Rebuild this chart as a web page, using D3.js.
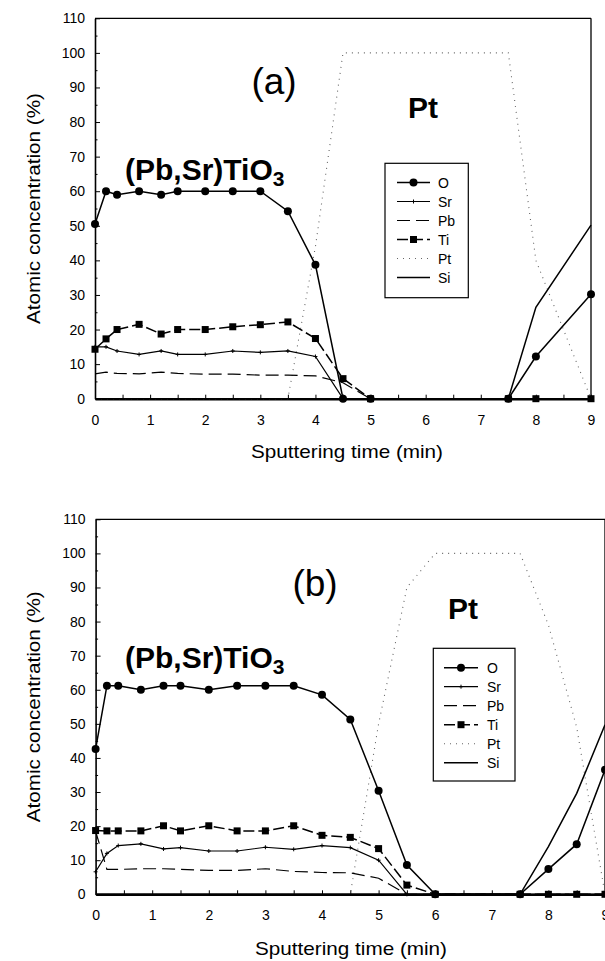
<!DOCTYPE html>
<html>
<head>
<meta charset="utf-8">
<script src="https://cdn.jsdelivr.net/npm/d3@7"></script>
<style>
  body { margin: 0; background: #fff; }
  svg { display: block; font-family: "Liberation Sans", Arial, sans-serif; }
</style>
</head>
<body>
<svg id="chart" width="605" height="961"></svg>
<script>
// ---- data ----
const elements = ["O", "Sr", "Pb", "Ti", "Pt", "Si"];
const yTicks = [0, 10, 20, 30, 40, 50, 60, 70, 80, 90, 100, 110];
const yMinor = [5, 15, 25, 35, 45, 55, 65, 75, 85, 95, 105];
const xTicks = [0, 1, 2, 3, 4, 5, 6, 7, 8, 9];
const xMinor = [0.5, 1.5, 2.5, 3.5, 4.5, 5.5, 6.5, 7.5, 8.5];

// panel (a)
const timeA = [0, 0.2, 0.4, 0.8, 1.2, 1.5, 2, 2.5, 3, 3.5, 4, 4.5, 5, 7.5, 8, 9];
const oA  = [50.5, 60, 59, 60, 59, 60, 60, 60, 60, 54.2, 38.7, 0, 0, 0, 12.2, 30.2];
const srA = [15, 15, 13.8, 12.8, 13.8, 12.8, 12.8, 13.8, 13.4, 13.8, 12.2, 0, 0, 0, 0, 0];
const pbA = [7.2, 7.7, 7.3, 7.2, 7.7, 7.3, 7.1, 7.1, 6.8, 6.8, 6.6, 4.6, 0, 0, 0, 0];
const tiA = [14.3, 17.3, 20, 21.5, 18.7, 20, 20, 20.8, 21.4, 22.2, 17.4, 5.8, 0, 0, 0, 0];
const ptA = [0, 0, 0, 0, 0, 0, 0, 0, 0, 0, 44, 100, 100, 100, 40, 0];
const siA = [0, 0, 0, 0, 0, 0, 0, 0, 0, 0, 0, 0, 0, 0, 26.4, 50.2];

// panel (b)
const timeB = [0, 0.2, 0.4, 0.8, 1.2, 1.5, 2, 2.5, 3, 3.5, 4, 4.5, 5, 5.5, 6, 7.5, 8, 8.5, 9];
const oB  = [42.6, 61.2, 61.2, 60, 61.2, 61.2, 60, 61.2, 61.2, 61.2, 58.5, 51.3, 30.4, 8.6, 0, 0, 7.4, 14.7, 36.5];
const srB = [6.6, 12, 14.3, 14.8, 13.3, 13.7, 12.7, 12.7, 13.8, 13.2, 14.3, 13.7, 10, 0, 0, 0, 0, 0, 0];
const pbB = [18.5, 7.3, 7.3, 7.5, 7.5, 7.3, 7, 7, 7.5, 6.7, 6.4, 6.3, 4.7, 0, 0, 0, 0, 0, 0];
const tiB = [18.7, 18.6, 18.6, 18.6, 20.1, 18.6, 20.1, 18.6, 18.6, 20.1, 17.3, 16.7, 13.4, 2.7, 0, 0, 0, 0, 0];
const ptB = [0, 0, 0, 0, 0, 0, 0, 0, 0, 0, 0, 0, 50, 90, 100, 100, 79, 49, 0];
const siB = [0, 0, 0, 0, 0, 0, 0, 0, 0, 0, 0, 0, 0, 0, 0, 0, 14, 29.6, 49.7];

const styles = {
  O:  { dash: null, width: 1.5, color: "#000", marker: "circle" },
  Sr: { dash: null, width: 1.2, color: "#000", marker: "plus" },
  Pb: { dash: "13,6", width: 1.2, color: "#000", marker: null },
  Ti: { dash: "11,4", width: 1.5, color: "#000", marker: "square" },
  Pt: { dash: "1,5", width: 1.1, color: "#666", marker: null },
  Si: { dash: null, width: 1.5, color: "#000", marker: null },
};
const drawOrder = ["Pt", "Si", "Pb", "Sr", "Ti", "O"];

const svg = d3.select("#chart");

function drawMarker(g, kind, cx, cy) {
  if (kind === "circle") {
    g.append("circle").attr("cx", cx).attr("cy", cy).attr("r", 4).attr("fill", "#000");
  } else if (kind === "square") {
    g.append("rect").attr("x", cx - 3.5).attr("y", cy - 3.5).attr("width", 7).attr("height", 7).attr("fill", "#000");
  } else if (kind === "plus") {
    g.append("path").attr("d", `M${cx},${cy - 2}V${cy + 2}M${cx - 2},${cy}H${cx + 2}`)
      .attr("stroke", "#000").attr("stroke-width", 1);
  }
}

function drawPanel(p) {
  const g = svg.append("g");
  const x = d3.scaleLinear().domain([0, 9]).range([p.left, p.right]);
  const y = d3.scaleLinear().domain([0, 110]).range([p.bottom, p.top]);

  // frame top / right
  g.append("line").attr("x1", p.left).attr("x2", p.right).attr("y1", p.top).attr("y2", p.top)
    .attr("stroke", "#000").attr("stroke-width", 1.3);
  g.append("line").attr("x1", p.right).attr("x2", p.right).attr("y1", p.top).attr("y2", p.bottom)
    .attr("stroke", "#000").attr("stroke-width", 1.3);

  // y axis
  const ya = g.append("g").attr("transform", `translate(${p.left},0)`)
    .call(d3.axisLeft(y).tickValues(yTicks).tickSizeInner(-5).tickSizeOuter(0).tickPadding(10));
  g.append("g").attr("transform", `translate(${p.left},0)`)
    .call(d3.axisLeft(y).tickValues(yMinor).tickSizeInner(-2.5).tickSizeOuter(0).tickFormat(""))
    .select(".domain").remove();
  ya.select(".domain").attr("stroke-width", 1.6);

  // x axis
  const xa = g.append("g").attr("transform", `translate(0,${p.bottom})`)
    .call(d3.axisBottom(x).tickValues(xTicks).tickSizeInner(-4).tickSizeOuter(0).tickPadding(16));
  g.append("g").attr("transform", `translate(0,${p.bottom})`)
    .call(d3.axisBottom(x).tickValues(xMinor).tickSizeInner(-4).tickSizeOuter(0).tickFormat(""))
    .select(".domain").remove();
  xa.select(".domain").attr("stroke-width", 2.4);

  g.selectAll(".tick text").attr("font-size", 14).attr("font-family", "Liberation Sans, Arial, sans-serif").attr("fill", "#000");

  // series
  drawOrder.forEach((el) => {
    const st = styles[el];
    const pts = p.time.map((t, i) => ({ t, v: p.series[el][i] }));
    const line = d3.line().x((d) => x(d.t)).y((d) => y(d.v));
    g.append("path").datum(pts).attr("d", line)
      .attr("fill", "none").attr("stroke", st.color).attr("stroke-width", st.width)
      .attr("stroke-dasharray", st.dash);
    if (st.marker) pts.forEach((d) => drawMarker(g, st.marker, x(d.t), y(d.v)));
  });

  // axis titles
  g.append("text")
    .attr("transform", `translate(40,${(p.top + p.bottom) / 2}) rotate(-90)`)
    .attr("text-anchor", "middle").attr("font-size", 19)
    .attr("textLength", 231).attr("lengthAdjust", "spacingAndGlyphs")
    .text("Atomic concentration (%)");
  g.append("text")
    .attr("x", p.xLabelX).attr("y", p.xLabelY)
    .attr("text-anchor", "middle").attr("font-size", 19)
    .attr("textLength", 192).attr("lengthAdjust", "spacingAndGlyphs")
    .text("Sputtering time (min)");

  // annotations
  g.append("text").attr("x", p.tagX).attr("y", p.tagY).attr("text-anchor", "middle")
    .attr("font-size", 37).text(p.tag);
  g.append("text").attr("x", p.ptX).attr("y", p.ptY).attr("text-anchor", "middle")
    .attr("font-size", 30).attr("font-weight", 700).text("Pt");
  const f = g.append("text").attr("x", 125).attr("y", p.formulaY)
    .attr("font-size", 30).attr("font-weight", 700);
  f.append("tspan").text("(Pb,Sr)TiO");
  f.append("tspan").attr("font-size", 21).attr("dy", 6).text("3");

  // legend
  const L = p.legend;
  g.append("rect").attr("x", L.x).attr("y", L.y).attr("width", L.w).attr("height", L.h)
    .attr("fill", "#fff").attr("stroke", "#000").attr("stroke-width", 1.2);
  elements.forEach((el, i) => {
    const st = styles[el];
    const ry = L.row0 + i * 19;
    g.append("line").attr("x1", L.sx1).attr("x2", L.sx2).attr("y1", ry).attr("y2", ry)
      .attr("stroke", st.color).attr("stroke-width", st.width).attr("stroke-dasharray", st.dash);
    if (st.marker) drawMarker(g, st.marker, (L.sx1 + L.sx2) / 2, ry);
    g.append("text").attr("x", L.tx).attr("y", ry + 5).attr("font-size", 14).text(el);
  });
}

drawPanel({
  left: 95, right: 591, top: 18.3, bottom: 398.7,
  time: timeA,
  series: { O: oA, Sr: srA, Pb: pbA, Ti: tiA, Pt: ptA, Si: siA },
  xLabelX: 347, xLabelY: 458,
  tag: "(a)", tagX: 274, tagY: 94,
  ptX: 423, ptY: 118, formulaY: 180,
  legend: { x: 385, y: 163.3, w: 83.3, h: 134.4, row0: 182.5, sx1: 397, sx2: 430, tx: 438 },
});

drawPanel({
  left: 95.6, right: 605, top: 519.3, bottom: 894.3,
  time: timeB,
  series: { O: oB, Sr: srB, Pb: pbB, Ti: tiB, Pt: ptB, Si: siB },
  xLabelX: 351, xLabelY: 955,
  tag: "(b)", tagX: 315, tagY: 596,
  ptX: 463, ptY: 619, formulaY: 668,
  legend: { x: 433.3, y: 648.3, w: 81.7, h: 132.7, row0: 667.7, sx1: 444, sx2: 478, tx: 487 },
});
</script>
</body>
</html>
